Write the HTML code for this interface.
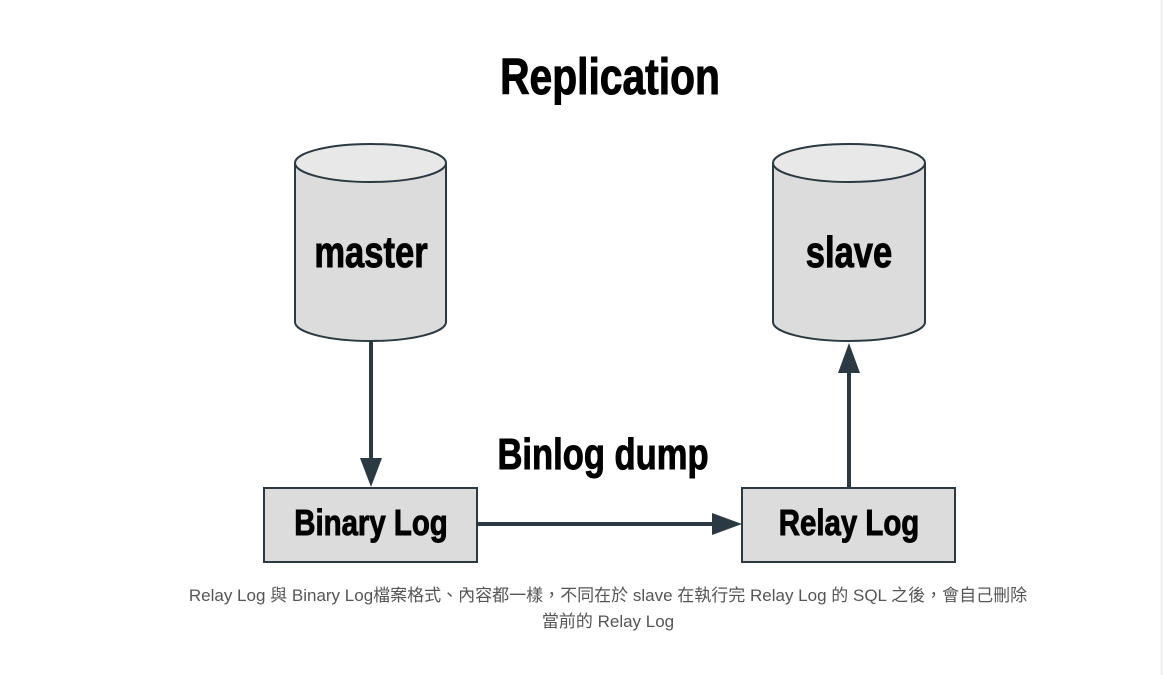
<!DOCTYPE html>
<html><head><meta charset="utf-8"><style>
body{margin:0;background:#fff;width:1164px;height:675px;overflow:hidden}
.cap{position:absolute;left:0;width:1216px;text-align:center;font:17px "Liberation Sans","Noto Sans CJK TC",sans-serif;color:#555;}
</style></head><body>
<svg width="1164" height="675" style="position:absolute;left:0;top:0">
<line x1="1161.5" y1="0" x2="1161.5" y2="675" stroke="#eee" stroke-width="2"/>
<g stroke="#2b3a42" stroke-width="2" fill="#dcdcdc">
<path d="M295,163 L295,322 A75.5,19 0 0 0 446,322 L446,163"/>
<ellipse cx="370.5" cy="163" rx="75.5" ry="19" fill="#e8e8e8"/>
<path d="M773,163 L773,322 A76,19 0 0 0 925,322 L925,163"/>
<ellipse cx="849" cy="163" rx="76" ry="19" fill="#e8e8e8"/>
<rect x="264" y="488" width="213" height="74"/>
<rect x="742" y="488" width="213" height="74"/>
</g>
<g stroke="#2b3a42" stroke-width="4" fill="#2b3a42">
<line x1="371" y1="341" x2="371" y2="462"/>
<polygon points="360,458 382,458 371,487" stroke="none"/>
<line x1="477" y1="524" x2="716" y2="524"/>
<polygon points="712,513 712,535 742,524" stroke="none"/>
<line x1="849" y1="488" x2="849" y2="370"/>
<polygon points="838,373 860,373 849,343" stroke="none"/>
</g>
<g font-family="'Liberation Sans Narrow','Liberation Sans',sans-serif" font-weight="bold" fill="#000" stroke="#000" stroke-width="0.8" text-anchor="middle">
<text font-size="40" transform="translate(610,94) scale(1.02,1.28)">Replication</text>
<text font-size="36" transform="translate(371,267) scale(0.96,1.2)">master</text>
<text font-size="36" transform="translate(849,267) scale(0.96,1.2)">slave</text>
<text font-size="36" transform="translate(603,469) scale(0.96,1.2)">Binlog dump</text>
<text font-size="30" transform="translate(371,535) scale(0.98,1.2)">Binary  Log</text>
<text font-size="30" transform="translate(849,535) scale(0.98,1.2)">Relay  Log</text>
</g>
</svg>
<div class="cap" style="top:581px">Relay Log 與 Binary Log檔案格式、內容都一樣，不同在於 slave 在執行完 Relay Log 的 SQL 之後，會自己刪除</div>
<div class="cap" style="top:607px">當前的 Relay Log</div>
</body></html>
